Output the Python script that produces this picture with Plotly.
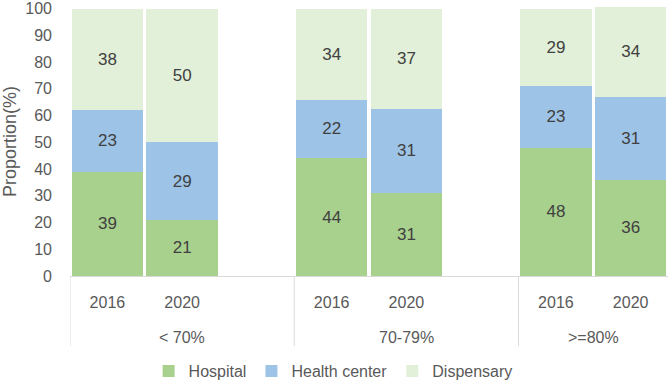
import plotly.graph_objects as go

groups = ["< 70%", "70-79%", ">=80%"]
years = ["2016", "2020"]
hospital = [39, 21, 44, 31.2, 48, 36]
health_center = [23, 29, 22, 31.4, 23, 31]
dispensary = [38, 50, 34, 37.4, 29, 34]

series = [
    ("Hospital", hospital, "#A9D18E"),
    ("Health center", health_center, "#9DC3E6"),
    ("Dispensary", dispensary, "#E2F0D9"),
]

# slot positions: each group occupies 3 slots (2 bars + blank)
positions = [g * 3 + j for g in range(len(groups)) for j in range(len(years))]
year_labels = [years[j] for g in range(len(groups)) for j in range(len(years))]

FONT = "Liberation Sans, Arial, sans-serif"
GRAY = "#595959"
LINE = "#D9D9D9"

fig = go.Figure()
for name, vals, color in series:
    fig.add_trace(go.Bar(
        x=positions, y=vals, name=name,
        marker=dict(color=color, line=dict(width=0)),
        texttemplate="%{y:.0f}", textposition="inside",
        insidetextanchor="middle",
        textfont=dict(size=17, color="#404040", family=FONT),
        hoverinfo="skip",
    ))

TOP, BOTTOM = 7, 106
plot_h = 382 - TOP - BOTTOM
sep_depth = -70 / plot_h
shapes = []
for g in range(len(groups)):
    xs = g * 3 - 0.5
    shapes.append(dict(type="line", xref="x", yref="paper", x0=xs, x1=xs,
                       y0=0, y1=sep_depth, line=dict(color=LINE, width=1)))

label_x = [1, 4, 6.5]
annotations = [
    dict(x=label_x[g], y=-61 / plot_h, xref="x", yref="paper", text=groups[g],
         showarrow=False, yanchor="middle", xanchor="center",
         font=dict(size=16, color=GRAY, family=FONT))
    for g in range(len(groups))
]

fig.update_layout(
    width=669, height=382,
    margin=dict(l=70, r=1, t=TOP, b=BOTTOM, autoexpand=False),
    barmode="stack", bargap=0.044,
    plot_bgcolor="white", paper_bgcolor="white",
    font=dict(family=FONT, color=GRAY, size=16),
    shapes=shapes, annotations=annotations,
    legend=dict(orientation="h", x=0.44, xanchor="center",
                y=-95 / plot_h, yanchor="middle", traceorder="normal",
                font=dict(size=16, color=GRAY, family=FONT),
                itemclick=False, itemdoubleclick=False),
    xaxis=dict(range=[-0.5, 7.5], tickmode="array", tickvals=positions,
               ticktext=year_labels, showline=True, linecolor=LINE, linewidth=1,
               showgrid=False, zeroline=False, ticks="", ticklabelstandoff=12,
               tickfont=dict(size=16, color=GRAY), fixedrange=True, automargin=False,
               ticklabeloverflow="allow"),
    yaxis=dict(range=[0, 100.6], tickmode="array", tickvals=list(range(0, 101, 10)),
               showgrid=False, zeroline=False, showline=False, ticks="",
               ticklabelstandoff=17, tickfont=dict(size=16, color=GRAY),
               title=dict(text="Proportion(%)", font=dict(size=18, color=GRAY), standoff=8),
               fixedrange=True, automargin=False, ticklabeloverflow="allow"),
)

fig.write_html("out.html", config={"displayModeBar": False},
               post_script="document.body.style.margin='0';")
